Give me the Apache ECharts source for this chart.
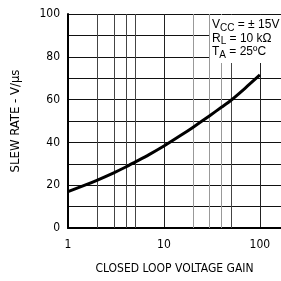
<!DOCTYPE html>
<html>
<head>
<meta charset="utf-8">
<script src="https://cdn.jsdelivr.net/npm/echarts@6/dist/echarts.min.js"></script>
<style>
  html, body { margin: 0; padding: 0; background: #fff; }
  #chart { width: 281px; height: 281px; }
</style>
</head>
<body>
<div id="chart"></div>
<script>
// closed loop gain (x) and slew rate in V/us (y)
const gain = [1, 1.5, 2, 3, 4, 5, 7, 10, 15, 20, 30, 40, 50, 70, 100]
const slewRate = [17, 20, 22.3, 25.8, 28.5, 30.8, 34.3, 38.3, 43.3, 47, 52.5, 56.5, 59.7, 65.3, 71.5]
const yTicks = [0, 20, 40, 60, 80, 100]
const minorX = [2, 3, 4, 5, 20, 30, 40, 50]
const lightX = [20, 30, 40]

const font = '"DejaVu Sans Condensed", "Liberation Sans", sans-serif'
const legendFont = '"Liberation Sans", Arial, sans-serif'
const chart = echarts.init(document.getElementById('chart'))

const option = {
  backgroundColor: '#fff',
  animation: false,
  grid: { left: 68, right: 0, top: 14, bottom: 53 },
  xAxis: {
    type: 'log',
    logBase: 10,
    min: 1,
    max: 166,
    name: 'CLOSED LOOP VOLTAGE GAIN',
    nameLocation: 'middle',
    nameGap: 35,
    nameTextStyle: { color: '#000', fontSize: 12, fontFamily: font },
    axisLine: { lineStyle: { color: '#000', width: 2 } },
    axisTick: { show: false },
    axisLabel: {
      color: '#000', fontSize: 12, fontFamily: font, margin: 11,
      showMaxLabel: false,
      formatter: v => ([1, 10, 100].includes(Math.round(v)) ? String(Math.round(v)) : '')
    },
    splitLine: { show: true, lineStyle: { color: '#222', width: 1 } }
  },
  yAxis: {
    type: 'value',
    min: 0,
    max: 100,
    interval: 10,
    name: 'SLEW RATE - V/\u00b5s',
    nameLocation: 'middle',
    nameRotate: 90,
    nameGap: 46,
    nameTextStyle: { color: '#000', fontSize: 13, fontFamily: font },
    axisLine: { show: true, lineStyle: { color: '#000', width: 2 } },
    axisTick: { show: false },
    axisLabel: {
      color: '#000', fontSize: 12, fontFamily: font, margin: 8,
      formatter: v => (yTicks.includes(v) ? String(v) : '')
    },
    splitLine: { show: true, lineStyle: { color: '#111', width: 1 } }
  },
  series: [
    {
      type: 'line',
      data: gain.map((g, i) => [g, slewRate[i]]),
      smooth: 0.25,
      showSymbol: false,
      lineStyle: { color: '#000', width: 3, join: 'round' },
      z: 5,
      markLine: {
        silent: true,
        symbol: 'none',
        label: { show: false },
        data: minorX.map(v => ({
          xAxis: v,
          lineStyle: { color: lightX.includes(v) ? '#999' : '#444', width: 1, type: 'solid' }
        }))
      }
    }
  ],
  graphic: [
    {
      type: 'rect',
      shape: { x: 210, y: 15, width: 71, height: 48 },
      style: { fill: '#fff' },
      z: 100
    },
    {
      type: 'text',
      left: 212,
      top: 17,
      z: 101,
      style: {
        text: '{m|V}{s|CC}{m| = \u00b1 15V}\n{m|R}{s|L}{m| = 10 k\u03a9}\n{m|T}{s|A}{m| = 25\u00baC}',
        fill: '#000',
        fontFamily: legendFont,
        rich: {
          m: { fontSize: 12, fontFamily: legendFont, fill: '#000', lineHeight: 13.5 },
          s: { fontSize: 10, fontFamily: legendFont, fill: '#000', padding: [6, 0, 0, 0], lineHeight: 13.5 }
        }
      }
    }
  ]
}

chart.setOption(option)
</script>
</body>
</html>
